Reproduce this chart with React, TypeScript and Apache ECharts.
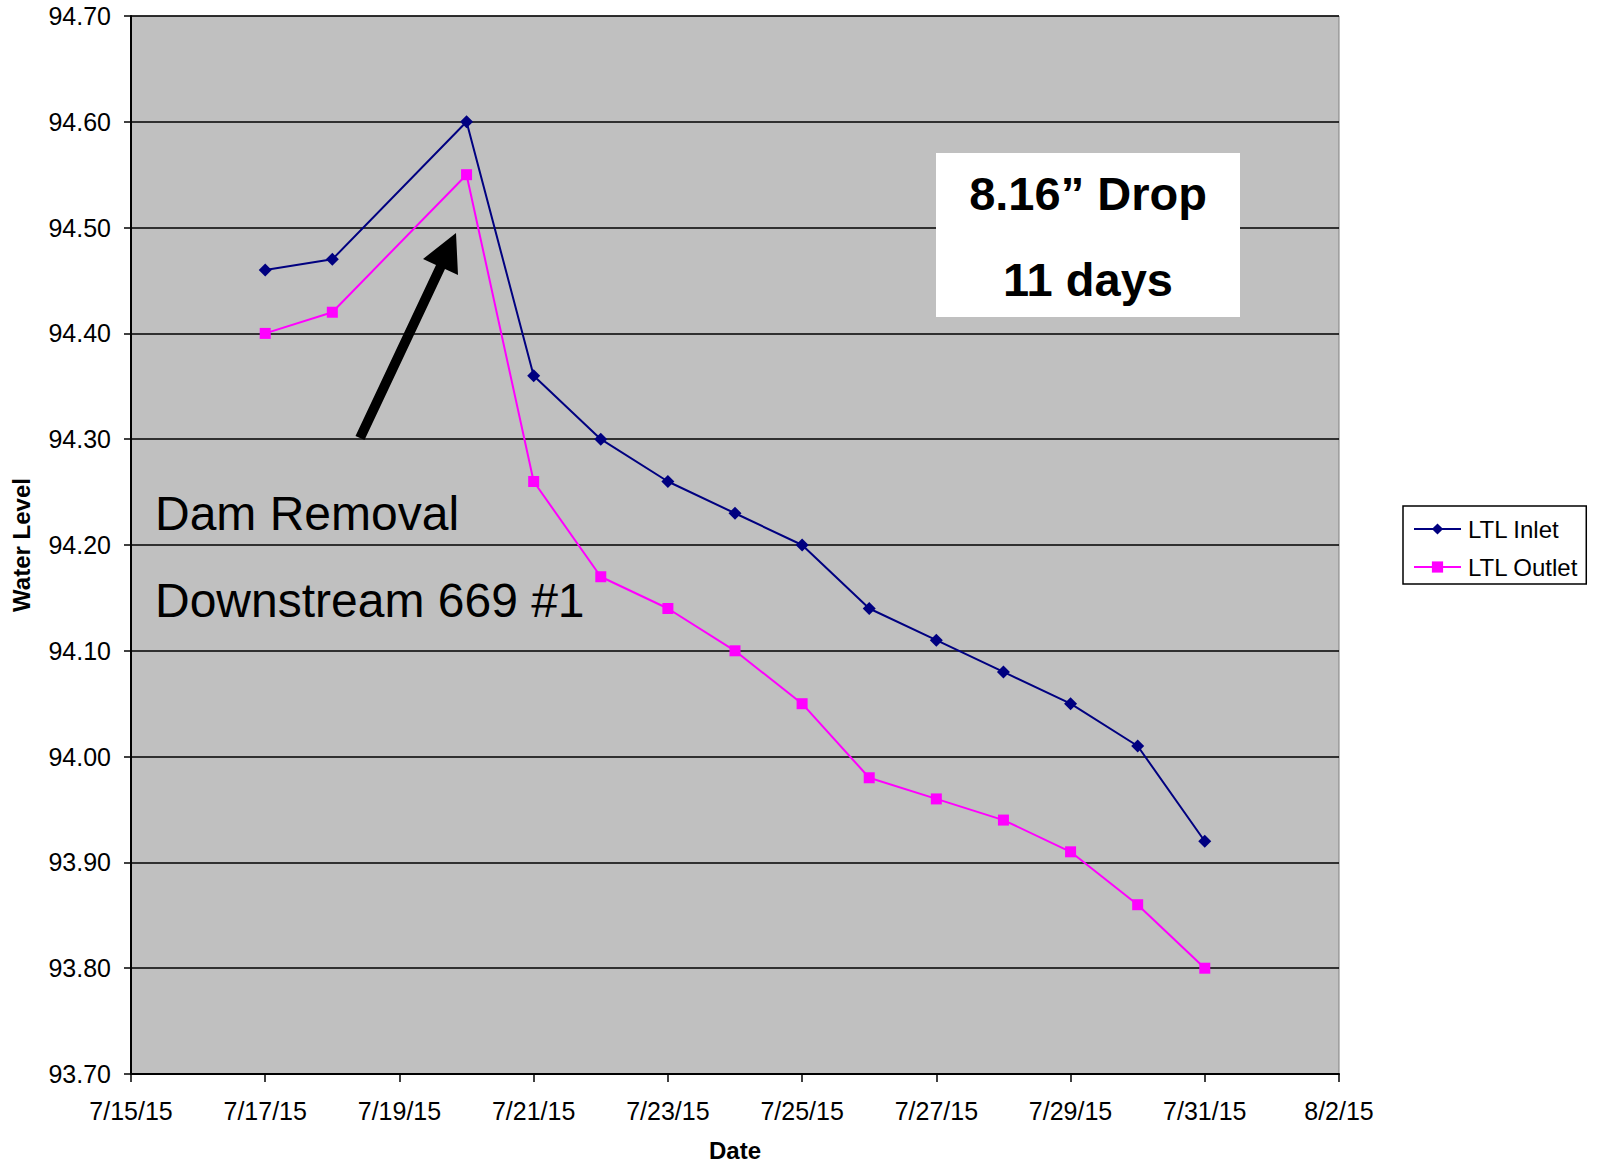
import React, { useEffect, useRef } from "react";
import * as echarts from "echarts";

const dates = ["7/17/15", "7/18/15", "7/20/15", "7/21/15", "7/22/15", "7/23/15", "7/24/15", "7/25/15", "7/26/15", "7/27/15", "7/28/15", "7/29/15", "7/30/15", "7/31/15"];
const inletValues = [94.46, 94.47, 94.6, 94.36, 94.3, 94.26, 94.23, 94.2, 94.14, 94.11, 94.08, 94.05, 94.01, 93.92];
const outletValues = [94.4, 94.42, 94.55, 94.26, 94.17, 94.14, 94.1, 94.05, 93.98, 93.96, 93.94, 93.91, 93.86, 93.8];
const startDate = "7/15/15";
const endDate = "8/2/15";
const yMin = 93.7;
const yMax = 94.7;
const yStep = 0.1;

const FONT = "'Liberation Sans', Arial, sans-serif";
const DAY = 86400000;

function parseDate(s: string): number {
  const [m, d, y] = s.split("/").map(Number);
  return Date.UTC(2000 + y, m - 1, d);
}
const t0 = parseDate(startDate);
const toOffset = (s: string) => Math.round((parseDate(s) - t0) / DAY);
const offsetLabel = (v: number) => {
  const d = new Date(t0 + v * DAY);
  return `${d.getUTCMonth() + 1}/${d.getUTCDate()}/${String(d.getUTCFullYear()).slice(2)}`;
};

export default function App() {
  const ref = useRef<HTMLDivElement>(null);
  useEffect(() => {
    if (!ref.current) return;
    const chart = echarts.init(ref.current, null, { renderer: "svg" });
    const arrowPts = [
      [355.5, 435.9],
      [436, 264.9],
      [423, 259],
      [456, 233],
      [458, 275],
      [445, 269.1],
      [364.5, 440.1],
    ];
    chart.setOption({
      animation: false,
      backgroundColor: "#ffffff",
      textStyle: { fontFamily: FONT },
      grid: {
        left: 131,
        top: 16,
        right: 261,
        bottom: 89,
        show: true,
        backgroundColor: "#c0c0c0",
        borderColor: "#808080",
        borderWidth: 1,
      },
      legend: {
        orient: "vertical",
        left: 1403,
        top: 506,
        padding: [11, 8, 5, 10],
        itemGap: 14,
        itemWidth: 47,
        itemHeight: 14,
        backgroundColor: "#ffffff",
        borderColor: "#000000",
        borderWidth: 1.5,
        borderRadius: 0,
        textStyle: { fontFamily: FONT, fontSize: 24, color: "#000", padding: [0, 0, 0, 2] },
        data: ["LTL Inlet", "LTL Outlet"],
      },
      xAxis: {
        type: "value",
        min: 0,
        max: toOffset(endDate),
        interval: 2,
        name: "Date",
        nameLocation: "middle",
        nameGap: 64,
        nameTextStyle: { fontFamily: FONT, fontSize: 24, fontWeight: "bold", color: "#000" },
        axisLine: { show: true, onZero: false, lineStyle: { color: "#000", width: 2 } },
        axisTick: { show: true, length: 8, lineStyle: { color: "#000", width: 1.5 } },
        axisLabel: {
          margin: 24,
          fontFamily: FONT,
          fontSize: 25,
          color: "#000",
          formatter: (v: number) => offsetLabel(v),
        },
        splitLine: { show: false },
      },
      yAxis: {
        type: "value",
        min: yMin,
        max: yMax,
        interval: yStep,
        name: "Water Level",
        nameLocation: "middle",
        nameGap: 98,
        nameTextStyle: { fontFamily: FONT, fontSize: 24, fontWeight: "bold", color: "#000" },
        axisLine: { show: true, lineStyle: { color: "#000", width: 2 } },
        axisTick: { show: true, length: 7, lineStyle: { color: "#000", width: 1.5 } },
        axisLabel: {
          margin: 20,
          fontFamily: FONT,
          fontSize: 25,
          color: "#000",
          formatter: (v: number) => v.toFixed(2),
        },
        splitLine: { show: true, lineStyle: { color: "#000", width: 1.5 } },
      },
      series: [
        {
          name: "LTL Inlet",
          type: "line",
          data: dates.map((d, i) => [toOffset(d), inletValues[i]]),
          symbol: "diamond",
          symbolSize: 13,
          itemStyle: { color: "#000080" },
          lineStyle: { color: "#000080", width: 2 },
          z: 3,
        },
        {
          name: "LTL Outlet",
          type: "line",
          data: dates.map((d, i) => [toOffset(d), outletValues[i]]),
          symbol: "rect",
          symbolSize: 11,
          itemStyle: { color: "#ff00ff" },
          lineStyle: { color: "#ff00ff", width: 2 },
          z: 2,
        },
      ],
      graphic: [
        {
          type: "polygon",
          shape: { points: arrowPts },
          style: { fill: "#000" },
          z: 10,
        },
        {
          type: "text",
          x: 155,
          y: 513,
          style: {
            text: "Dam Removal",
            fontFamily: FONT,
            fontSize: 48,
            fill: "#000",
            verticalAlign: "middle",
            align: "left",
          },
          z: 10,
        },
        {
          type: "text",
          x: 155,
          y: 600,
          style: {
            text: "Downstream 669 #1",
            fontFamily: FONT,
            fontSize: 48,
            fill: "#000",
            verticalAlign: "middle",
            align: "left",
          },
          z: 10,
        },
        {
          type: "rect",
          shape: { x: 936, y: 153, width: 304, height: 164 },
          style: { fill: "#ffffff" },
          z: 10,
        },
        {
          type: "text",
          x: 1088,
          y: 193,
          style: {
            text: "8.16\u201D Drop",
            fontFamily: FONT,
            fontSize: 47,
            fontWeight: "bold",
            fill: "#000",
            align: "center",
            verticalAlign: "middle",
          },
          z: 11,
        },
        {
          type: "text",
          x: 1088,
          y: 279,
          style: {
            text: "11 days",
            fontFamily: FONT,
            fontSize: 47,
            fontWeight: "bold",
            fill: "#000",
            align: "center",
            verticalAlign: "middle",
          },
          z: 11,
        },
      ],
    });
    return () => chart.dispose();
  }, []);
  return <div ref={ref} style={{ width: 1600, height: 1167, position: "absolute", left: 0, top: 0 }} />;
}
